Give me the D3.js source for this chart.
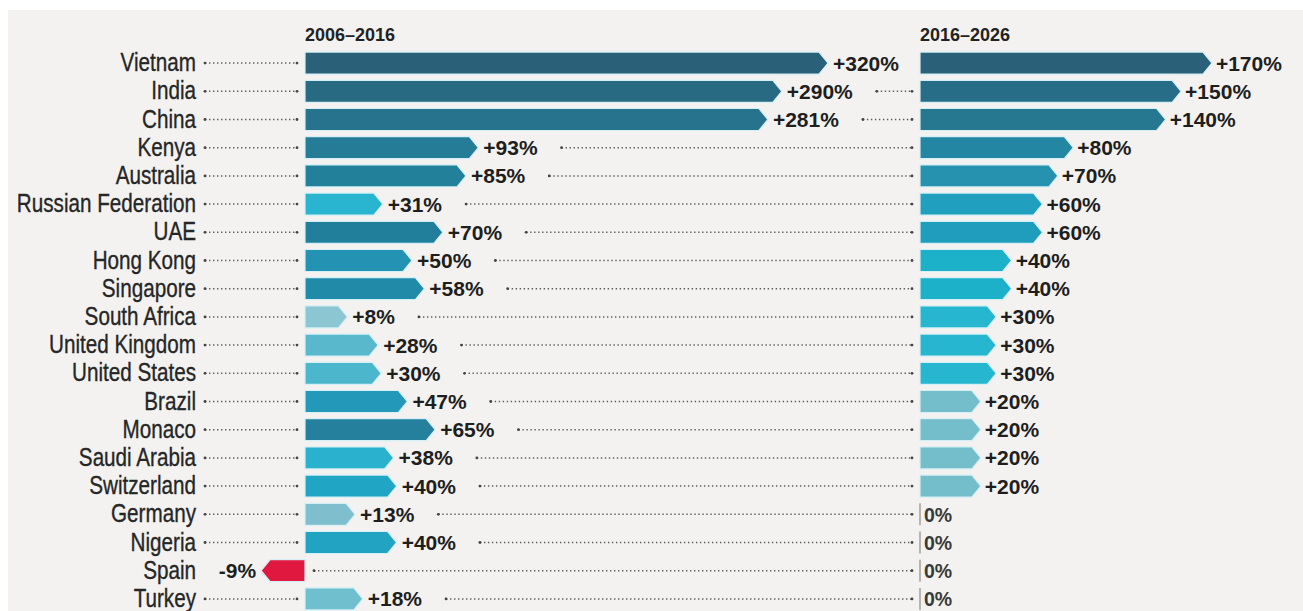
<!DOCTYPE html>
<html><head><meta charset="utf-8">
<script src="https://cdn.jsdelivr.net/npm/d3@7"></script>
<style>
html,body{margin:0;padding:0;background:#fff;}
svg{display:block;}
</style></head>
<body>
<svg id="chart" width="1303" height="611"></svg>
<script>
// ---- data ----
const countries = ["Vietnam","India","China","Kenya","Australia","Russian Federation","UAE","Hong Kong","Singapore","South Africa","United Kingdom","United States","Brazil","Monaco","Saudi Arabia","Switzerland","Germany","Nigeria","Spain","Turkey"];
const growth2006_2016 = [320,290,281,93,85,31,70,50,58,8,28,30,47,65,38,40,13,40,-9,18];
const growth2016_2026 = [170,150,140,80,70,60,60,40,40,30,30,30,20,20,20,20,0,0,0,0];
const periodLabels = ["2006–2016","2016–2026"];

// ---- styles ----
const colors2006 = ["#2b6178","#286a82","#27728c","#247c96","#23809b","#29b4cf","#217f9c","#2492b2","#228aa9","#8cc6d2","#5ab8cd","#4cb6cd","#2398b9","#24809d","#2ab1cd","#21a5c4","#7fbecd","#22a3c2","#e0183f","#70bfcf"];
const colors2016 = ["#2b6178","#286d87","#267891","#2386a3","#2792b0","#219fbe","#209dbc","#1cb0c9","#1cb0c9","#27b6cf","#27b6cf","#27b6cf","#74bdcb","#74bdcb","#74bdcb","#74bdcb","#888","#888","#888","#888"];

const svg = d3.select("#chart");
svg.append("rect").attr("x",8).attr("y",10).attr("width",1295).attr("height",601).attr("fill","#f3f2f0");

const x0L = 305, x0R = 920, leaderEnd = 912;
const y = d3.scaleBand().domain(countries).range([49, 49 + 20*28.2]).paddingInner(0.22).paddingOuter(0.11);
const len = d3.scaleLinear().domain([0,320]).range([30,523]);
const bh = y.bandwidth();
const tip = 9;
const cy = c => y(c) + bh/2;
const fmt = v => v > 0 ? "+" + v + "%" : v + "%";
const FONT = "'Liberation Sans', Arial, sans-serif";

function arrowPath(x0, v, yc) {
  const L = len(Math.abs(v));
  const t = yc - bh/2, b = yc + bh/2;
  if (v >= 0) {
    const e = x0 + L;
    return `M${x0},${t}L${e-tip},${t}L${e},${yc}L${e-tip},${b}L${x0},${b}Z`;
  } else {
    const e = x0 - L;
    return `M${x0},${t}L${e+tip},${t}L${e},${yc}L${e+tip},${b}L${x0},${b}Z`;
  }
}

function dotted(g, xa, xb, yc) {
  g.append("line").attr("x1",xa).attr("x2",xb).attr("y1",yc).attr("y2",yc)
    .attr("stroke","#5e5e5e").attr("stroke-width",1.5).attr("stroke-dasharray","1.4,2.6");
  g.append("circle").attr("cx",xa).attr("cy",yc).attr("r",1.4).attr("fill","#444");
  g.append("circle").attr("cx",xb).attr("cy",yc).attr("r",1.4).attr("fill","#444");
}

// headers
svg.selectAll("text.hdr").data(periodLabels).join("text").attr("class","hdr")
  .attr("x",(d,i)=> i===0 ? x0L : x0R).attr("y",41)
  .attr("font-family",FONT).attr("font-weight","bold").attr("font-size",18)
  .attr("fill","#222").text(d=>d);

const gLead = svg.append("g");
// country labels (condensed)
countries.forEach((c,i)=>{
  svg.append("text")
    .attr("transform",`translate(196,${cy(c)+8}) scale(0.78,1)`)
    .attr("text-anchor","end").attr("font-family",FONT).attr("font-size",26.5)
    .attr("fill","#262626").attr("stroke","#262626").attr("stroke-width",0.35).text(c);
  if (growth2006_2016[i] >= 0) dotted(gLead, 205, 297, cy(c));
});

// left bars
const gL = svg.append("g");
countries.forEach((c,i)=>{
  const v = growth2006_2016[i], yc = cy(c);
  gL.append("path").attr("d",arrowPath(x0L, v, yc)).attr("fill",colors2006[i])
    .attr("stroke","#d4eff5").attr("stroke-width",1.2);
  let lbl;
  if (v >= 0) {
    lbl = gL.append("text").attr("x", x0L + len(v) + 5).attr("y", yc + 7.5)
      .attr("font-family",FONT).attr("font-weight","bold").attr("font-size",21)
      .attr("fill","#1e1e1e").text(fmt(v));
    const end = x0L + len(v) + 5 + lbl.node().getComputedTextLength();
    if (end + 24 < leaderEnd - 10) dotted(gLead, end + 24, leaderEnd, yc);
  } else {
    lbl = gL.append("text").attr("x", x0L - len(-v) - 5).attr("y", yc + 7.5)
      .attr("text-anchor","end").attr("font-family",FONT).attr("font-weight","bold").attr("font-size",21)
      .attr("fill","#1e1e1e").text(fmt(v));
    dotted(gLead, x0L + 9, leaderEnd, yc);
  }
});

// right bars
const gR = svg.append("g");
countries.forEach((c,i)=>{
  const v = growth2016_2026[i], yc = cy(c);
  if (v > 0) {
    gR.append("path").attr("d",arrowPath(x0R, v, yc)).attr("fill",colors2016[i])
      .attr("stroke","#d4eff5").attr("stroke-width",1.2);
    gR.append("text").attr("x", x0R + len(v) + 4).attr("y", yc + 7.5)
      .attr("font-family",FONT).attr("font-weight","bold").attr("font-size",21)
      .attr("fill","#1e1e1e").text(fmt(v));
  } else {
    gR.append("line").attr("x1",x0R).attr("x2",x0R).attr("y1",yc-bh/2).attr("y2",yc+bh/2)
      .attr("stroke","#777").attr("stroke-width",1);
    gR.append("text").attr("x", x0R + 4).attr("y", yc + 7.5)
      .attr("font-family",FONT).attr("font-weight","bold").attr("font-size",19.5)
      .attr("fill","#3a3a3a").text(fmt(v));
  }
});
</script>
</body></html>
